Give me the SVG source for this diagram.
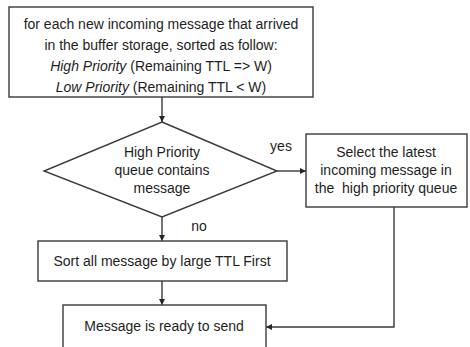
<svg xmlns="http://www.w3.org/2000/svg" width="470" height="347" viewBox="0 0 470 347">
  <defs>
    <marker id="arrow" viewBox="0 0 10 10" refX="10" refY="5" markerWidth="6" markerHeight="6" markerUnits="userSpaceOnUse" orient="auto">
      <path d="M0,0 L10,5 L0,10 z" fill="#262626"/>
    </marker>
    <style>
      .box { fill: #ffffff; stroke: #3a3a3a; stroke-width: 1.4; }
      .edge { fill: none; stroke: #3a3a3a; stroke-width: 1.4; }
      text { font-family: "Liberation Sans", Arial, sans-serif; font-size: 14px; fill: #1e1e1e; text-anchor: middle; }
      .it { font-style: italic; }
    </style>
  </defs>
  <rect width="470" height="347" fill="#ffffff"/>

  <g id="connectors">
    <line class="edge" x1="162" y1="97" x2="162" y2="122" marker-end="url(#arrow)"/>
    <line class="edge" x1="277" y1="171" x2="306" y2="171" marker-end="url(#arrow)"/>
    <line class="edge" x1="162" y1="217" x2="162" y2="241" marker-end="url(#arrow)"/>
    <line class="edge" x1="162" y1="281" x2="162" y2="305" marker-end="url(#arrow)"/>
    <polyline class="edge" points="394,207 394,327 266,327" marker-end="url(#arrow)"/>
    <text x="281" y="151">yes</text>
    <text x="199" y="231">no</text>
  </g>

  <g id="start">
    <rect class="box" x="9" y="7" width="304" height="90"/>
    <text x="161" y="29">for each new incoming message that arrived</text>
    <text x="161" y="50">in the buffer storage, sorted as follow:</text>
    <text x="161" y="71"><tspan class="it">High Priority</tspan> (Remaining TTL =&gt; W)</text>
    <text x="161" y="92"><tspan class="it">Low Priority</tspan> (Remaining TTL &lt; W)</text>
  </g>

  <g id="decision">
    <polygon class="box" points="162,122 277,171 162,217 44,171"/>
    <text x="162" y="157">High Priority</text>
    <text x="162" y="175">queue contains</text>
    <text x="162" y="193">message</text>
  </g>

  <g id="select">
    <rect class="box" x="306" y="134" width="161" height="73"/>
    <text x="386" y="157">Select the latest</text>
    <text x="386" y="175">incoming message in</text>
    <text x="386" y="193" xml:space="preserve">the  high priority queue</text>
  </g>

  <g id="sort">
    <rect class="box" x="38" y="241" width="249" height="40"/>
    <text x="162" y="266">Sort all message by large TTL First</text>
  </g>

  <g id="ready">
    <rect class="box" x="63" y="305" width="203" height="50"/>
    <text x="164" y="331">Message is ready to send</text>
  </g>
</svg>
